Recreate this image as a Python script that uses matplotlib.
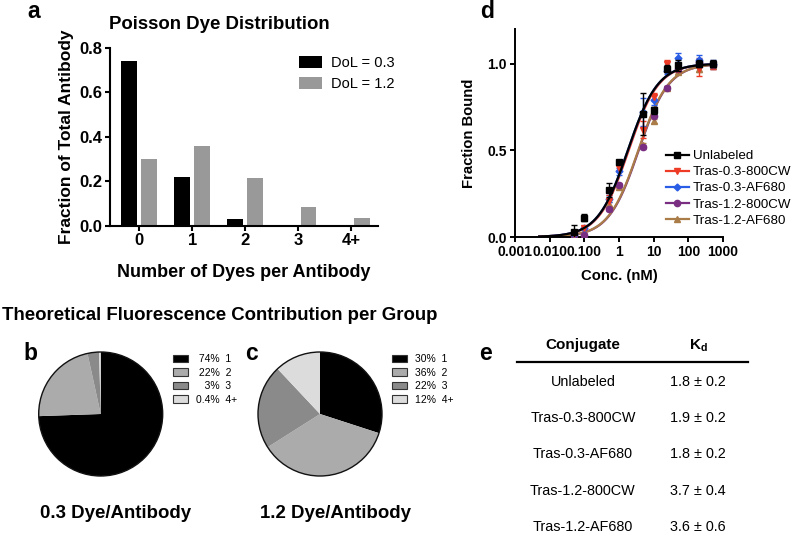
import numpy as np
import matplotlib
matplotlib.use('Agg')
import matplotlib.pyplot as plt
from matplotlib.lines import Line2D

plt.rcParams['font.family'] = ['Liberation Sans', 'DejaVu Sans']

# a - Poisson dye distribution
dye_groups = ['0', '1', '2', '3', '4+']
dol_03 = [0.741, 0.222, 0.033, 0.004, 0.0003]
dol_12 = [0.301, 0.361, 0.217, 0.087, 0.034]

# b/c - theoretical fluorescence contribution
pie_groups = ['1', '2', '3', '4+']
pie_03 = [74, 22, 3, 0.4]
pie_12 = [30, 36, 22, 12]
pie_03_pct = ['\u200874%', '\u200822%', '\u2007\u20083%', '0.4%']
pie_12_pct = ['30%', '36%', '22%', '12%']

# d - binding curves
conc = [0.05, 0.1, 0.5, 1, 5, 10, 25, 50, 200, 500]
conjugates = ['Unlabeled', 'Tras-0.3-800CW', 'Tras-0.3-AF680', 'Tras-1.2-800CW', 'Tras-1.2-AF680']
bound = [
    [0.03, 0.11, 0.27, 0.43, 0.71, 0.73, 0.97, 0.99, 1.00, 1.00],
    [0.02, 0.05, 0.21, 0.40, 0.62, 0.81, 1.00, 0.97, 0.97, 0.99],
    [0.02, 0.05, 0.22, 0.38, 0.72, 0.79, 0.96, 1.03, 1.02, 1.00],
    [0.01, 0.01, 0.16, 0.30, 0.52, 0.70, 0.86, 0.97, 1.01, 0.99],
    [0.01, 0.03, 0.19, 0.29, 0.53, 0.67, 0.86, 0.95, 0.97, 0.99],
]
bound_err = [
    [0.04, 0.02, 0.04, 0.01, 0.12, 0.02, 0.02, 0.03, 0.02, 0.02],
    [0.01, 0.01, 0.03, 0.02, 0.05, 0.02, 0.02, 0.02, 0.04, 0.02],
    [0.01, 0.01, 0.02, 0.02, 0.08, 0.03, 0.02, 0.03, 0.03, 0.02],
    [0.01, 0.01, 0.01, 0.01, 0.01, 0.01, 0.01, 0.01, 0.02, 0.02],
    [0.01, 0.01, 0.01, 0.01, 0.01, 0.01, 0.01, 0.01, 0.02, 0.02],
]
# e - Kd table (nM)
kd = [1.8, 1.9, 1.8, 3.7, 3.6]
kd_err = [0.2, 0.2, 0.2, 0.4, 0.6]

colors = ['black', '#ee3b26', '#2a5de6', '#7a2e82', '#a97c48']
markers = ['s', 'v', 'D', 'o', '^']
msizes = [5, 5, 3.5, 4.5, 5]
pie_colors = ['black', '#ababab', '#8a8a8a', '#dcdcdc']

W, H = 792, 536
fig = plt.figure(figsize=(W / 100, H / 100), dpi=100)


def fx(px):
    return px / W


def fy(py):
    return 1 - py / H


def style_axes(ax, lw=1.5):
    for s in ['top', 'right']:
        ax.spines[s].set_visible(False)
    for s in ['left', 'bottom']:
        ax.spines[s].set_linewidth(lw)
    ax.tick_params(width=lw, length=3.8, direction='out')


# ---- panel a
ax_a = fig.add_axes([fx(110), fy(226), fx(378) - fx(110), fy(48) - fy(226)])
x = np.arange(len(dye_groups))
ax_a.bar(x - 0.19, dol_03, 0.3, color='black', label='DoL = 0.3')
ax_a.bar(x + 0.19, dol_12, 0.3, color='#999999', label='DoL = 1.2')
ax_a.set_xlim(-0.55, 4.5)
ax_a.set_ylim(0, 0.8)
ax_a.set_xticks(x)
ax_a.set_xticklabels(dye_groups)
ax_a.set_yticks([0, 0.2, 0.4, 0.6, 0.8])
ax_a.set_yticklabels(['0.0', '0.2', '0.4', '0.6', '0.8'])
style_axes(ax_a)
ax_a.tick_params(labelsize=12, pad=1.5)
for t in ax_a.get_xticklabels() + ax_a.get_yticklabels():
    t.set_fontweight('bold')
ax_a.set_xlabel('Number of Dyes per Antibody', fontsize=13, fontweight='bold', labelpad=11)
ax_a.set_ylabel('Fraction of Total Antibody', fontsize=12.5, fontweight='bold', labelpad=4)
fig.text(fx(219), fy(29.3), 'Poisson Dye Distribution', ha='center', va='baseline',
         fontsize=13.4, fontweight='bold')
ax_a.legend(loc='upper left', bbox_to_anchor=(fx(299), fy(56)), bbox_transform=fig.transFigure,
            frameon=False, fontsize=10.5, handlelength=1.6, handleheight=0.9,
            handletextpad=0.6, labelspacing=0.45, borderpad=0, borderaxespad=0)

# ---- panel d
ax_d = fig.add_axes([fx(515), fy(237), fx(723) - fx(515), fy(29) - fy(237)])
xs = np.geomspace(0.005, 500, 300)
for i in reversed(range(len(conjugates))):
    ax_d.plot(xs, xs / (kd[i] + xs), color=colors[i], lw=1.6, zorder=2 + i * 0.1 if i else 4)
    ax_d.errorbar(conc, bound[i], yerr=bound_err[i], fmt=markers[i], color=colors[i],
                  ms=msizes[i], elinewidth=1, capsize=2.5, capthick=1, zorder=3 if i else 5)
ax_d.set_xscale('log')
ax_d.set_xlim(0.001, 1000)
ax_d.set_ylim(0, 1.2)
ax_d.set_xticks([0.001, 0.01, 0.1, 1, 10, 100, 1000])
ax_d.set_xticklabels(['0.001', '0.010', '0.100', '1', '10', '100', '1000'])
ax_d.set_yticks([0, 0.5, 1.0])
ax_d.set_yticklabels(['0.0', '0.5', '1.0'])
style_axes(ax_d, 1.4)
ax_d.tick_params(which='minor', width=1, length=2.4)
ax_d.tick_params(labelsize=10, pad=2)
for t in ax_d.get_xticklabels() + ax_d.get_yticklabels():
    t.set_fontweight('bold')
ax_d.set_xlabel('Conc. (nM)', fontsize=10.7, fontweight='bold', labelpad=7)
ax_d.set_ylabel('Fraction Bound', fontsize=10.7, fontweight='bold', labelpad=8)
handles = [Line2D([], [], color=c, marker=m, ms=s, lw=1.6) for c, m, s in zip(colors, markers, msizes)]
fig.legend(handles, conjugates, loc='upper left', bbox_to_anchor=(fx(666), fy(150)),
           frameon=False, fontsize=9.6, handlelength=1.7, handletextpad=0.3,
           labelspacing=0.28, borderpad=0, borderaxespad=0)

# ---- panels b, c
fig.text(fx(2), fy(320), 'Theoretical Fluorescence Contribution per Group', ha='left',
         va='baseline', fontsize=13.4, fontweight='bold')
r_px = 62 * 1.05
for cx, vals, pcts, leg_x, sub in [(100.7, pie_03, pie_03_pct, 173, '0.3 Dye/Antibody'),
                                   (320, pie_12, pie_12_pct, 392, '1.2 Dye/Antibody')]:
    ax = fig.add_axes([fx(cx - r_px), fy(414 + r_px), 2 * r_px / W, 2 * r_px / H])
    wedges, _ = ax.pie(vals, colors=pie_colors, startangle=90, counterclock=False,
                       wedgeprops=dict(linewidth=0))
    ax.add_patch(plt.Circle((0, 0), 1, fill=False, lw=1.0, color='#111111'))
    ax.set_xlim(-1.05, 1.05)
    ax.set_ylim(-1.05, 1.05)
    ax.set_aspect('equal')
    labels = [f'{p}  {g}' for p, g in zip(pcts, pie_groups)]
    leg = fig.legend(wedges, labels, loc='upper left', bbox_to_anchor=(fx(leg_x), fy(354)),
                     frameon=False, fontsize=7.5, handlelength=1.45, handleheight=0.75,
                     handletextpad=0.8, labelspacing=0.35, borderpad=0, borderaxespad=0)
    for h in leg.legend_handles:
        h.set_edgecolor('#333333')
        h.set_linewidth(0.8)
    fig.text(fx(cx + 15), fy(518), sub, ha='center', va='baseline', fontsize=13.4, fontweight='bold')

# ---- panel e table
fig.text(fx(583), fy(349), 'Conjugate', ha='center', va='baseline', fontsize=11, fontweight='bold')
fig.text(fx(698), fy(349), r'K$_\mathregular{d}$', ha='center', va='baseline', fontsize=11,
         fontweight='bold')
fig.add_artist(Line2D([fx(517), fx(748)], [fy(362), fy(362)], color='black', lw=1.6))
for i, (name, k, e) in enumerate(zip(conjugates, kd, kd_err)):
    yb = fy(386 + 36.2 * i)
    fig.text(fx(583), yb, name, ha='center', va='baseline', fontsize=10.4)
    fig.text(fx(698), yb, f'{k:.1f} \u00b1 {e:.1f}', ha='center', va='baseline', fontsize=10.4)

# panel letters
for lx, ly, s in [(27, 18, 'a'), (480, 18, 'd'), (23, 360, 'b'), (245, 360, 'c'), (479, 360, 'e')]:
    fig.text(fx(lx), fy(ly), s, ha='left', va='baseline', fontsize=16.5, fontweight='bold')

fig.savefig('out.png', dpi=100)
